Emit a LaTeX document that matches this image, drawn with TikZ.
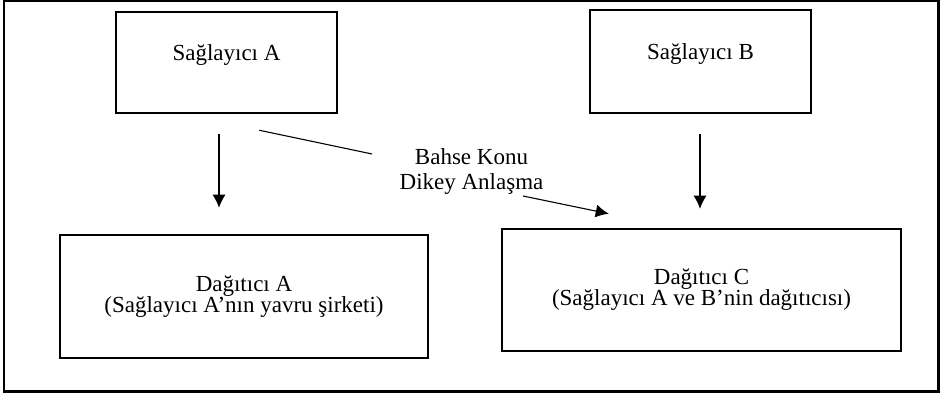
\documentclass[tikz,border=0pt]{standalone}
\usepackage{fontspec}
\setmainfont{Liberation Serif}
\usetikzlibrary{arrows.meta}

\begin{document}
\begin{tikzpicture}[x=0.5pt, y=-0.5pt, >={Latex[length=6.5pt,width=6.5pt]},
		kutu/.style={draw, line width=1.25pt, inner sep=0pt, align=center, font=\fontsize{11.5}{10.5}\selectfont},
		ok/.style={line width=0.55pt}]
	\useasboundingbox (0,0) rectangle (942,399);
	% 1. 外框
	\draw[line width=1.2pt] (4,0.5) rectangle (938.5,391.5);
	
	% 2. 上层：两个供应方方框
	\node[kutu, minimum width=110.5pt, minimum height=50.5pt, text depth=9.5pt] (SA) at (226.5,62.5) {Sağlayıcı A};
	\node[kutu, minimum width=110.5pt, minimum height=51.5pt, text depth=9.5pt] (SB) at (700.5,61.5) {Sağlayıcı B};
	
	% 3. 下层：两个分销方方框
	\node[kutu, minimum width=184pt, minimum height=61.5pt] (DA) at (244,296.5) {Dağıtıcı A\\(Sağlayıcı A’nın yavru şirketi)};
	\node[kutu, minimum width=199.5pt, minimum height=61pt] (DC) at (701.5,290) {Dağıtıcı C\\(Sağlayıcı A ve B’nin dağıtıcısı)};
	
	% 4. 中间说明文字
	\node[inner sep=0pt, align=center, font=\fontsize{11.5}{12.5}\selectfont] (lab) at (471.5,172) {Bahse Konu\\Dikey Anlaşma};
	
	% 5. 竖直箭头
	\draw[ok, ->] ([xshift=-3.75pt, yshift=-10pt]SA.south) -- ([xshift=-12.5pt, yshift=13pt]DA.north);
	\draw[ok, ->] ([xshift=-0.25pt, yshift=-10pt]SB.south) -- ([xshift=-0.75pt, yshift=9.5pt]DC.north);
	
	% 6. 斜向连线（经过说明文字）
	\draw[ok] ([xshift=-39.5pt, yshift=-8pt]SA.south east) -- ([xshift=-49.75pt, yshift=9pt]lab.center);
	\draw[ok, ->] ([xshift=25.75pt, yshift=-12pt]lab.center) -- ([xshift=54pt, yshift=7pt]DC.north west);
\end{tikzpicture}
\end{document}
